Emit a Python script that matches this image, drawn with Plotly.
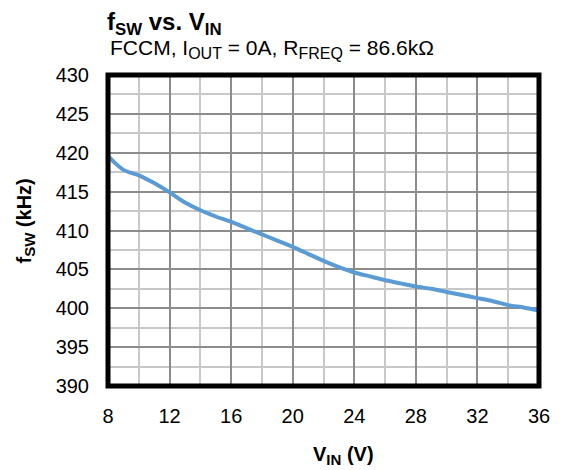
import plotly.graph_objects as go

vin = [8, 8.5, 9, 9.5, 10, 11, 12, 13, 14, 15, 16, 17, 18, 19, 20, 21, 22, 23, 24, 25, 26, 27, 28, 29, 30, 31, 32, 33, 34, 35, 36]
fsw = [419.6, 418.6, 417.8, 417.4, 417.1, 416.1, 414.9, 413.6, 412.6, 411.8, 411.1, 410.3, 409.5, 408.7, 407.9, 407.0, 406.1, 405.3, 404.6, 404.1, 403.6, 403.2, 402.8, 402.5, 402.1, 401.7, 401.3, 400.9, 400.4, 400.1, 399.7]

x_ticks = [8, 12, 16, 20, 24, 28, 32, 36]
y_ticks = [390, 395, 400, 405, 410, 415, 420, 425, 430]

FONT = "Liberation Sans, Arial, sans-serif"

def sub(t, size):
    return f"<sub><span style='font-size:{size}px'>{t}</span></sub>"

fig = go.Figure()
fig.add_trace(go.Scatter(x=vin, y=fsw, mode="lines",
                         line=dict(color="#5B9BD5", width=4, shape="spline", smoothing=0.6),
                         showlegend=False, hoverinfo="skip"))

fig.update_layout(
    width=554, height=462,
    margin=dict(l=100, r=20, t=67, b=84),
    paper_bgcolor="white", plot_bgcolor="white",
    font=dict(family=FONT, color="black", size=20),
    xaxis=dict(range=[8, 36], tickvals=x_ticks, ticktext=[str(v) for v in x_ticks],
               showgrid=True, gridcolor="#8c8c8c", gridwidth=1.5,
               minor=dict(dtick=2, tick0=8, showgrid=True, gridcolor="#c8c8c8", gridwidth=1.5),
               zeroline=False, showline=False,
               ticks="outside", ticklen=12, tickcolor="rgba(0,0,0,0)",
               tickfont=dict(size=20, family=FONT)),
    yaxis=dict(range=[390, 430], tickvals=y_ticks, ticktext=[str(v) for v in y_ticks],
               showgrid=True, gridcolor="#8c8c8c", gridwidth=1.5,
               minor=dict(dtick=2.5, tick0=390, showgrid=True, gridcolor="#c8c8c8", gridwidth=1.5),
               zeroline=False, showline=False,
               ticks="outside", ticklen=14, tickcolor="rgba(0,0,0,0)",
               tickfont=dict(size=20, family=FONT)),
    shapes=[dict(type="rect", xref="paper", yref="paper", x0=0, x1=1, y0=0, y1=1,
                 line=dict(color="black", width=5), layer="above")],
    annotations=[
        dict(text="<b>f<sub>SW</sub> vs. V<sub>IN</sub></b>", xref="paper", yref="paper",
             x=-0.007, y=1.167, xanchor="left", yanchor="middle", showarrow=False,
             font=dict(size=24, family=FONT)),
        dict(text="FCCM, I" + sub("OUT", 16) + " = 0A, R" + sub("FREQ", 16) + " = 86.6kΩ",
             xref="paper", yref="paper",
             x=0.0, y=1.084, xanchor="left", yanchor="middle", showarrow=False,
             font=dict(size=21, family=FONT)),
        dict(text="<b>f" + sub("SW", 15) + " (kHz)</b>", xref="paper", yref="paper",
             x=-0.191, y=0.531, xanchor="center", yanchor="middle", showarrow=False,
             textangle=-90, font=dict(size=20, family=FONT)),
        dict(text="<b>V" + sub("IN", 15) + " (V)</b>", xref="paper", yref="paper",
             x=0.546, y=-0.225, xanchor="center", yanchor="middle", showarrow=False,
             font=dict(size=20, family=FONT)),
    ],
)

fig.write_html("out.html")
